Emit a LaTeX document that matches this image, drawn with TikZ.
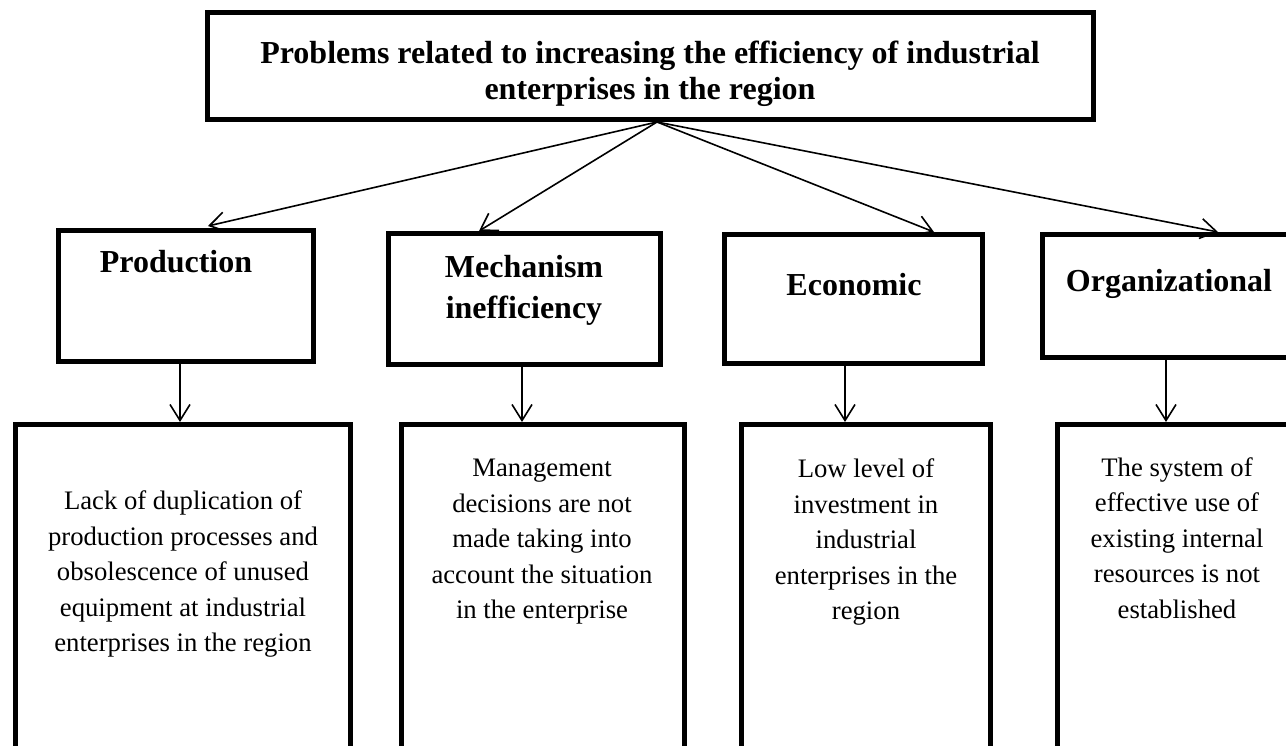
\documentclass[tikz,border=0pt]{standalone}
\usepackage{fontspec}
\setmainfont{Liberation Serif}
\usetikzlibrary{arrows.meta}
\tikzset{
  box/.style={draw=black, line width=5pt, inner sep=0pt, fill=none},
  arr/.style={line width=1.6pt, -{Straight Barb[length=16pt,width=20pt,line width=1.6pt]}},
  ttl/.style={font=\bfseries\fontsize{32}{36}\selectfont, align=center, inner sep=0pt},
  hd/.style={font=\bfseries\fontsize{32}{41}\selectfont, align=center, inner sep=0pt},
  bd/.style={font=\fontsize{26.7}{35.5}\selectfont, align=center, inner sep=0pt},
}
\begin{document}
\begin{tikzpicture}[x=1pt,y=-1pt]
\useasboundingbox (0,0) rectangle (1286,746);
\clip (0,0) rectangle (1286,746);
% boxes (line centres)
\node[box, minimum width=885.5pt, minimum height=107.5pt] (top) at (650.25,66.25) {};
\node[box, minimum width=255pt, minimum height=130pt] (prod) at (185.5,296) {};
\node[box, minimum width=272pt, minimum height=130pt] (mech) at (524,299) {};
\node[box, minimum width=258pt, minimum height=128pt] (econ) at (853,299) {};
\node[box, minimum width=258pt, minimum height=122pt] (org) at (1171,296) {};
\node[box, minimum width=335pt, minimum height=340pt] (b1) at (182.5,594) {};
\node[box, minimum width=283pt, minimum height=340pt] (b2) at (542.5,594) {};
\node[box, minimum width=249pt, minimum height=340pt] (b3) at (865.5,594) {};
\node[box, minimum width=243pt, minimum height=340pt] (b4) at (1178.5,594) {};
% texts
\node[ttl] (ttext) at (650,74) {Problems related to increasing the efficiency of industrial\\enterprises in the region};
\node[hd, anchor=base] (prodt) at (176,273) {Production};
\node[hd] (mecht) at (524,290) {Mechanism\\inefficiency};
\node[hd, anchor=base] (econt) at (854,295) {Economic};
\node[hd, anchor=base] (orgt) at (1169,292) {Organizational};
\node[bd] (t1) at (183,574) {Lack of duplication of\\production processes and\\obsolescence of unused\\equipment at industrial\\enterprises in the region};
\node[bd] (t2) at (542,542) {Management\\decisions are not\\made taking into\\account the situation\\in the enterprise};
\node[bd] (t3) at (866,542) {Low level of\\investment in\\industrial\\enterprises in the\\region};
\node[bd] (t4) at (1177,538) {The system of\\effective use of\\existing internal\\resources is not\\established};
% connector points
\coordinate (hub) at (657,122);
\coordinate (tp) at (208,226);
\coordinate (tm) at (479,231);
\coordinate (te) at (934,232);
\coordinate (to) at (1218,232);
\coordinate (v1) at (180,422);
\coordinate (v2) at (522,422);
\coordinate (v3) at (845,422);
\coordinate (v4) at (1166,422);
% connectors
\draw[arr] (hub) -- (tp);
\draw[arr] (hub) -- (tm);
\draw[arr] (hub) -- (te);
\draw[arr] (hub) -- (to);
\draw[arr] (prod.south -| v1) -- (v1);
\draw[arr] (mech.south -| v2) -- (v2);
\draw[arr] (econ.south -| v3) -- (v3);
\draw[arr] (org.south -| v4) -- (v4);
\end{tikzpicture}
\end{document}
